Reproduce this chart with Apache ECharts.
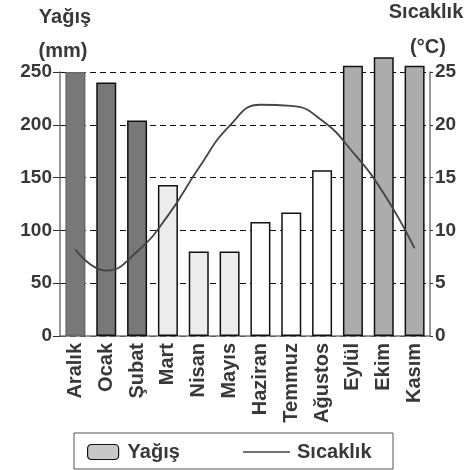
<!DOCTYPE html>
<html>
<head>
<meta charset="utf-8">
<script src="https://cdn.jsdelivr.net/npm/echarts@6/dist/echarts.min.js"></script>
<style>
  html, body { margin: 0; padding: 0; background: #fff; }
  #chart { width: 465px; height: 470px; }
</style>
</head>
<body>
<div id="chart"></div>
<script>
var months = ['Aralık', 'Ocak', 'Şubat', 'Mart', 'Nisan', 'Mayıs', 'Haziran', 'Temmuz', 'Ağustos', 'Eylül', 'Ekim', 'Kasım'];
var rain = [250, 240, 204, 143, 80, 80, 108, 117, 157, 256, 264, 256];
var temp = [8.2, 6.2, 8.0, 11.4, 15.9, 19.9, 21.9, 21.8, 20.4, 17.4, 13.5, 8.3];
// mevsim renkleri: kis, ilkbahar, yaz, sonbahar
var seasonColors = ['#787878', '#ececec', '#ffffff', '#acacac'];

var font = '"Liberation Sans", Arial, sans-serif';
var textColor = '#383838';

var chart = echarts.init(document.getElementById('chart'));

var barData = rain.map(function (v, i) {
  return {
    value: v,
    itemStyle: {
      color: seasonColors[Math.floor(i / 3)],
      borderColor: i === 0 ? '#666' : '#111'
    }
  };
});

var option = {
  animation: false,
  grid: { left: 60, right: 35, top: 72, bottom: 134 },
  xAxis: {
    type: 'category',
    data: months,
    axisLine: { lineStyle: { color: '#777', width: 1.5 } },
    axisTick: { show: false },
    axisLabel: {
      rotate: 90,
      margin: 7,
      color: textColor,
      fontFamily: font,
      fontWeight: 'bold',
      fontSize: 20
    }
  },
  yAxis: [
    {
      type: 'value',
      min: 0, max: 250, interval: 50,
      axisLine: { show: true, lineStyle: { color: '#777', width: 1.5 } },
      axisTick: { show: true, length: 7, lineStyle: { color: '#333' } },
      axisLabel: { margin: 8, color: textColor, fontFamily: font, fontWeight: 'bold', fontSize: 19 },
      splitLine: { lineStyle: { color: '#111', type: [6, 4], width: 1.2 } }
    },
    {
      type: 'value',
      min: 0, max: 25, interval: 5,
      axisLine: { show: true, lineStyle: { color: '#777', width: 1.5 } },
      axisTick: { show: true, length: 3, lineStyle: { color: '#333' } },
      axisLabel: { margin: 5, color: textColor, fontFamily: font, fontWeight: 'bold', fontSize: 19 },
      splitLine: { show: false }
    }
  ],
  legend: [
    {
      data: ['Yağış'],
      left: 87, top: 442,
      padding: 0,
      itemWidth: 31, itemHeight: 15,
      itemStyle: { color: '#c8c8c8', borderColor: '#111', borderWidth: 1.2 },
      textStyle: { color: textColor, fontFamily: font, fontWeight: 'bold', fontSize: 20, padding: [0, 0, 0, 4] }
    },
    {
      data: [{ name: 'Sıcaklık', icon: 'rect' }],
      left: 243, top: 442,
      padding: 0,
      itemWidth: 47, itemHeight: 1.6,
      itemStyle: { color: '#444', borderWidth: 0 },
      textStyle: { color: textColor, fontFamily: font, fontWeight: 'bold', fontSize: 20, padding: [0, 0, 0, 2] }
    }
  ],
  graphic: [
    { type: 'rect', shape: { x: 74, y: 433, width: 319, height: 36 }, style: { fill: 'none', stroke: '#555', lineWidth: 1 } },
    { type: 'text', x: 65, y: 17, style: { text: 'Yağış', font: 'bold 20px ' + font, fill: textColor, align: 'center', verticalAlign: 'middle' } },
    { type: 'text', x: 63, y: 51, style: { text: '(mm)', font: 'bold 20px ' + font, fill: textColor, align: 'center', verticalAlign: 'middle' } },
    { type: 'text', x: 426, y: 12, style: { text: 'Sıcaklık', font: 'bold 20px ' + font, fill: textColor, align: 'center', verticalAlign: 'middle' } },
    { type: 'text', x: 428, y: 47, style: { text: '(°C)', font: 'bold 20px ' + font, fill: textColor, align: 'center', verticalAlign: 'middle' } }
  ],
  series: [
    {
      name: 'Yağış',
      type: 'bar',
      yAxisIndex: 0,
      barWidth: 20,
      clip: false,
      itemStyle: { color: '#c8c8c8', borderColor: '#111', borderWidth: 1.5 },
      data: barData
    },
    {
      name: 'Sıcaklık',
      type: 'line',
      yAxisIndex: 1,
      smooth: 0.5,
      showSymbol: false,
      symbol: 'none',
      z: 5,
      lineStyle: { color: '#444', width: 1.8 },
      itemStyle: { color: '#444' },
      data: temp
    }
  ]
};

chart.setOption(option);
</script>
</body>
</html>
